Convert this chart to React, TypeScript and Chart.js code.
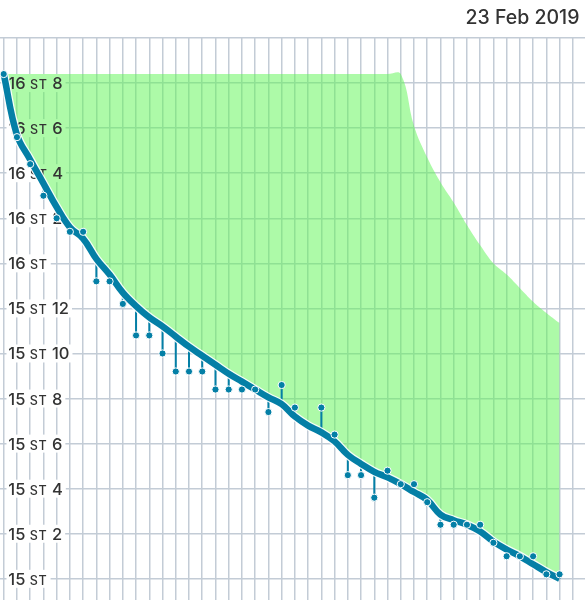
import React, { useEffect, useRef } from 'react';
import { Chart, registerables } from 'chart.js';

Chart.register(...registerables);

// Day index (x)
const days = [0, 1, 2, 3, 4, 5, 6, 7, 8, 9, 10, 11, 12, 13, 14, 15, 16, 17, 18, 19, 20, 21, 22, 23, 24, 25, 26, 27, 28, 29, 30, 31, 32, 33, 34, 35, 36, 37, 38, 39, 40, 41, 42];

// Measured weights in lb (null = no weigh-in)
const actualWeights: (number | null)[] = [
  232.4, 229.6, 228.4, 227.0, 226.0, 225.4, 225.4, 223.2, 223.2, 222.2,
  220.8, 220.8, 220.0, 219.2, 219.2, 219.2, 218.4, 218.4, 218.4, 218.4,
  217.4, 218.6, 217.6, null, 217.6, 216.4, 214.6, 214.6, 213.6, 214.8,
  214.2, 214.2, 213.4, 212.4, 212.4, 212.4, 212.4, 211.6, 211.0, 211.0,
  211.0, 210.2, 210.2,
];

// Trend weight in lb
const trendWeights = [
  232.4, 229.7, 228.6, 227.55, 226.5, 225.6, 225.1, 224.2, 223.5, 222.7,
  222.1, 221.6, 221.2, 220.75, 220.3, 219.9, 219.5, 219.1, 218.75, 218.4,
  218.05, 217.75, 217.2, 216.8, 216.5, 216.1, 215.5, 215.1, 214.75, 214.5,
  214.2, 213.85, 213.5, 212.85, 212.6, 212.4, 212.1, 211.65, 211.3, 211.0,
  210.65, 210.3, 210.0,
];

// Upper band edge in lb
const upperBand = [
  232.4, 232.4, 232.4, 232.4, 232.4, 232.4, 232.4, 232.4, 232.4, 232.4,
  232.4, 232.4, 232.4, 232.4, 232.4, 232.4, 232.4, 232.4, 232.4, 232.4,
  232.4, 232.4, 232.4, 232.4, 232.4, 232.4, 232.4, 232.4, 232.4, 232.4,
  232.4, 230.1, 228.7, 227.6, 226.7, 225.7, 224.8, 224.0, 223.5, 222.9,
  222.3, 221.8, 221.35,
];

// Y tick values (lb) that get a stone/pound label
const labelValues = [232, 230, 228, 226, 224, 222, 220, 218, 216, 214, 212, 210];

const titleText = '23 Feb 2019';

const BLUE = '#047fa6';
const FONT = 'Inter, "Noto Sans", sans-serif';
const BIG = `500 16.5px ${FONT}`;
const SMALL = `500 12.5px ${FONT}`;
const ST_SPACING = 0.8;

function labelParts(v: number) {
  const st = Math.floor(v / 14);
  const lb = Math.round(v - st * 14);
  const parts: { t: string; f: string; st?: boolean }[] = [
    { t: String(st) + ' ', f: BIG },
    { t: 'ST', f: SMALL, st: true },
  ];
  if (lb) parts.push({ t: ' ' + String(lb), f: BIG });
  return parts;
}

function partWidth(ctx: CanvasRenderingContext2D, p: { t: string; f: string; st?: boolean }) {
  ctx.font = p.f;
  return ctx.measureText(p.t).width + (p.st ? ST_SPACING * 2 : 0);
}

const X0 = 8.3;

const labelPlugin = {
  id: 'stoneLabels',
  beforeDatasetsDraw(chart: any) {
    const { ctx, scales } = chart;
    const y = scales.y;
    ctx.save();
    for (const v of labelValues) {
      const py = y.getPixelForValue(v);
      let w = 0;
      for (const p of labelParts(v)) w += partWidth(ctx, p);
      ctx.fillStyle = '#ffffff';
      ctx.fillRect(6.5, py - 9, X0 - 6.5 + w + 3, 18);
    }
    ctx.restore();
  },
  afterDatasetDraw(chart: any, args: any) {
    if (args.index !== 3) return;
    const { ctx, scales } = chart;
    const xs = scales.x;
    const ys = scales.y;
    ctx.save();
    // labels (above the band fill, below the trend line)
    ctx.fillStyle = '#333333';
    ctx.textBaseline = 'alphabetic';
    ctx.textAlign = 'left';
    for (const v of labelValues) {
      const py = ys.getPixelForValue(v);
      let x = X0;
      for (const p of labelParts(v)) {
        ctx.font = p.f;
        if (p.st) {
          (ctx as any).letterSpacing = `${ST_SPACING}px`;
          ctx.fillText(p.t, x, py + 6);
          (ctx as any).letterSpacing = '0px';
        } else {
          ctx.fillText(p.t, x, py + 6);
        }
        x += partWidth(ctx, p);
      }
    }
    // stems from weigh-ins to the trend
    ctx.strokeStyle = BLUE;
    ctx.lineWidth = 2;
    for (let i = 0; i < days.length; i++) {
      const a = actualWeights[i];
      if (a === null) continue;
      const px = xs.getPixelForValue(days[i]);
      ctx.beginPath();
      ctx.moveTo(px, ys.getPixelForValue(a));
      ctx.lineTo(px, ys.getPixelForValue(trendWeights[i]));
      ctx.stroke();
    }
    ctx.restore();
  },
  afterDraw(chart: any) {
    const { ctx } = chart;
    ctx.save();
    ctx.font = `500 19.5px ${FONT}`;
    ctx.fillStyle = '#333333';
    ctx.textAlign = 'right';
    ctx.textBaseline = 'alphabetic';
    ctx.fillText(titleText, 579.5, 24);
    ctx.restore();
  },
};

export default function App() {
  const ref = useRef<HTMLCanvasElement>(null);
  useEffect(() => {
    document.body.style.margin = '0';
    const toPts = (arr: (number | null)[]) => days.map((d, i) => ({ x: d, y: arr[i] }));
    const chart = new Chart(ref.current as HTMLCanvasElement, {
      type: 'line',
      data: {
        datasets: [
          {
            label: 'Weight',
            data: toPts(actualWeights) as any,
            showLine: false,
            pointRadius: 3.6,
            pointBackgroundColor: BLUE,
            pointBorderColor: '#ffffff',
            pointBorderWidth: 1,
            order: 0,
          },
          {
            label: 'Trend',
            data: toPts(trendWeights) as any,
            borderColor: BLUE,
            borderWidth: 6.5,
            tension: 0.4,
            pointRadius: 0,
            fill: false,
            order: 1,
          },
          {
            label: 'Trend outline',
            data: toPts(trendWeights) as any,
            borderColor: 'rgba(255,255,255,0.9)',
            borderWidth: 9,
            tension: 0.4,
            pointRadius: 0,
            fill: false,
            order: 2,
          },
          {
            label: 'Band',
            data: toPts(upperBand) as any,
            borderColor: 'rgba(0,0,0,0)',
            borderWidth: 0,
            tension: 0.4,
            pointRadius: 0,
            fill: { target: 1 },
            backgroundColor: 'rgba(92,246,82,0.5)',
            order: 3,
          },
        ],
      },
      options: {
        responsive: false,
        animation: false,
        layout: { autoPadding: false, padding: { top: 38, left: 0, right: 0, bottom: 0 } },
        plugins: {
          legend: { display: false },
          tooltip: { enabled: false },
          title: { display: false },
        },
        scales: {
          x: {
            type: 'linear',
            min: -0.28,
            max: 43.92,
            ticks: { display: false, stepSize: 1, includeBounds: false, autoSkip: false, padding: 0 },
            grid: { color: '#c3ccd6', lineWidth: 1.5, drawTicks: false },
            border: { display: false },
          },
          y: {
            type: 'linear',
            min: 209.06,
            max: 234,
            ticks: { display: false, stepSize: 2, includeBounds: false, autoSkip: false, padding: 0 },
            grid: { color: '#c3ccd6', lineWidth: 1.5, drawTicks: false },
            border: { display: false },
          },
        },
      },
      plugins: [labelPlugin],
    });
    return () => chart.destroy();
  }, []);
  return (
    <div style={{ position: 'absolute', left: 0, top: 0, width: 585, height: 600, background: '#ffffff' }}>
      <canvas ref={ref} width={585} height={600} style={{ width: 585, height: 600, display: 'block' }} />
    </div>
  );
}
